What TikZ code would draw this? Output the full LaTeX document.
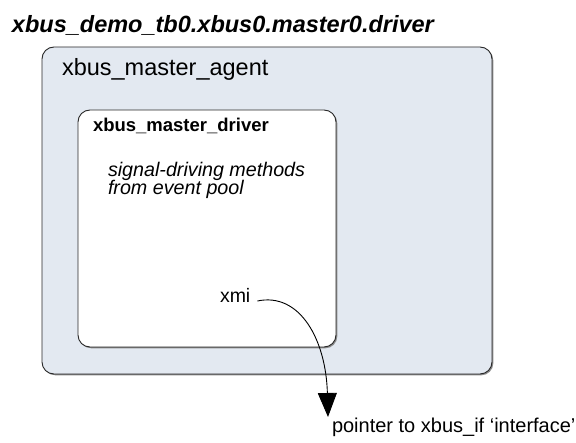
\documentclass[tikz,border=0pt]{standalone}
\usepackage{fontspec}
\setmainfont{Liberation Sans}
\usetikzlibrary{arrows.meta}
\definecolor{agentfill}{RGB}{227,233,241}
\definecolor{boxline}{RGB}{40,40,40}
\tikzset{
  boxshadow/.style={fill=black!45, draw=none, rounded corners=12pt},
  agentbox/.style={fill=agentfill, draw=boxline, line width=0.9pt, rounded corners=12pt},
  driverbox/.style={fill=white, draw=boxline, line width=0.9pt, rounded corners=12pt},
  lbl/.style={inner sep=0pt, outer sep=0pt, anchor=base west, text=black},
  ptr/.style={draw=black, line width=0.9pt, -{Triangle[length=24pt,width=19pt]}}
}
\begin{document}
\begin{tikzpicture}[x=1pt,y=-1pt]
\useasboundingbox (0,0) rectangle (576,443);
% outer agent box
\fill[boxshadow] (43.3,48.3) rectangle (493.3,375.3);
\draw[agentbox] (42,47) rectangle (492,374);
% inner driver box
\fill[boxshadow] (79.3,111.3) rectangle (337.3,348.3);
\draw[driverbox] (78,110) rectangle (336,347);
% texts
\node[lbl, font=\fontsize{23.5}{26}\selectfont\bfseries\itshape] (title) at (12,33) {xbus\_demo\_tb0.xbus0.master0.driver};
\node[lbl, font=\fontsize{23.5}{26}\selectfont] (agent) at (62,76) {xbus\_master\_agent};
\node[lbl, font=\fontsize{18.5}{21}\selectfont\bfseries] (driver) at (93,132) {xbus\_master\_driver};
\node[lbl, font=\fontsize{19.7}{21}\selectfont\itshape] (sig1) at (108,177) {signal-driving methods};
\node[lbl, font=\fontsize{19.7}{21}\selectfont\itshape] (sig2) at (108,195) {from event pool};
\node[lbl, font=\fontsize{19.5}{22}\selectfont] (xmi) at (220,303) {xmi};
\node[lbl, font=\fontsize{20}{22}\selectfont] (pointer) at (332,433) {pointer to xbus\_if ‘interface’};
% connector
\coordinate (src) at ([xshift=7pt]xmi.base east);
\coordinate (tip) at (328,417);
\draw[ptr] (src) ++(0,-2) coordinate (start)
  (start) .. controls (300,292) and (326,340) .. (tip);
\end{tikzpicture}
\end{document}
